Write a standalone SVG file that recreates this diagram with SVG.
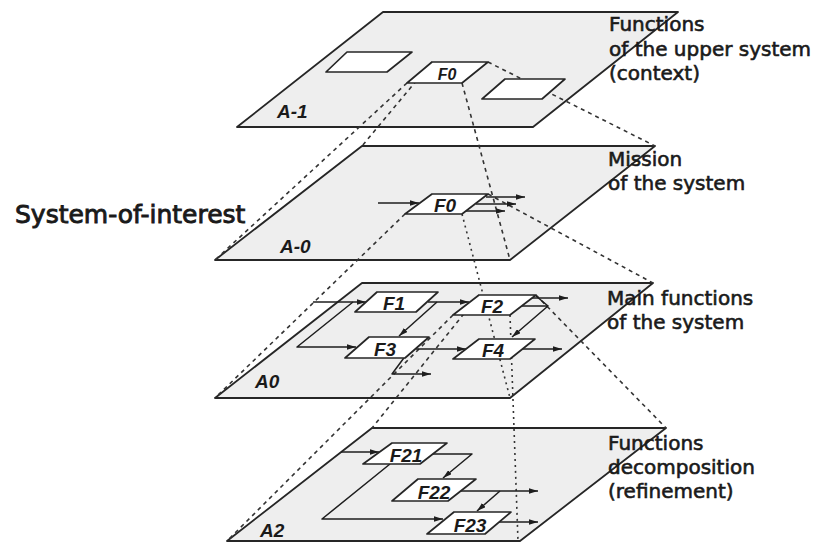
<svg xmlns="http://www.w3.org/2000/svg" width="824" height="542" viewBox="0 0 824 542">
<style>
.plane{fill:#eeeeee;stroke:#262626;stroke-width:1.8;stroke-linejoin:round}
.box{fill:#ffffff;stroke:#262626;stroke-width:1.7;stroke-linejoin:round}
.dash{fill:none;stroke:#333;stroke-width:1.6;stroke-dasharray:4 4}
.dot{fill:none;stroke:#333;stroke-width:1.6;stroke-dasharray:2 4}
.con{fill:none;stroke:#1e1e1e;stroke-width:1.5;stroke-linejoin:round}
.arr{marker-end:url(#ah)}
.lbl{font-family:"DejaVu Sans","Liberation Sans",sans-serif;font-size:20px;fill:#1a1a1a;stroke:#1a1a1a;stroke-width:0.6}
.big{font-family:"DejaVu Sans","Liberation Sans",sans-serif;font-size:25px;fill:#1a1a1a;stroke:#1a1a1a;stroke-width:0.9}
.fn{font-family:"Liberation Sans",Arial,sans-serif;font-size:19px;font-weight:bold;font-style:italic;fill:#1a1a1a;text-anchor:middle}
.pl{font-family:"Liberation Sans",Arial,sans-serif;font-size:19px;font-weight:bold;font-style:italic;fill:#1a1a1a}
</style>
<defs>
<marker id="ah" viewBox="0 0 10 6" refX="10" refY="3" markerWidth="9" markerHeight="5.4" markerUnits="userSpaceOnUse" orient="auto"><path d="M0,0 L10,3 L0,6 z" fill="#1e1e1e"/></marker>
</defs>

<g id="planes">
<g id="plane-A-1"><polygon class="plane" points="383,12 678,12 533,127 237,127"/></g>
<g id="plane-A-0"><polygon class="plane" points="362,146 655,146 510,260 215,260"/></g>
<g id="plane-A0"><polygon class="plane" points="362,283 653,283 510,398 215,398"/></g>
<g id="plane-A2"><polygon class="plane" points="372,428 666,428 520,541 227,541"/></g>
</g>

<g id="projections">
<line class="dash" x1="407" y1="83" x2="215" y2="260"/>
<line class="dash" x1="432" y1="62" x2="362" y2="146"/>
<line class="dash" x1="462" y1="83" x2="510" y2="260"/>
<line class="dash" x1="488" y1="62" x2="655" y2="146"/>
<line class="dash" x1="405" y1="214" x2="215" y2="398"/>
<line class="dot" x1="462" y1="214" x2="510" y2="398"/>
<line class="dash" x1="488" y1="194" x2="653" y2="283"/>
<line class="dash" x1="453" y1="315" x2="227" y2="541"/>
<line class="dash" x1="479" y1="295" x2="372" y2="428"/>
<line class="dot" x1="510" y1="315" x2="518" y2="541"/>
<line class="dash" x1="536" y1="295" x2="666" y2="428"/>
</g>

<g id="connectors">
<path class="con arr" d="M378,203 H419"/>
<path class="con arr" d="M486,197 H525"/>
<path class="con arr" d="M476,204 H516"/>
<path class="con arr" d="M465,211 H505"/>

<path class="con arr" d="M313,302 H366"/>
<path class="con arr" d="M353,302 L297,347 H356"/>
<path class="con arr" d="M428,302 H469"/>
<path class="con arr" d="M437,302 L399,336"/>
<path class="con arr" d="M531,298 H568"/>
<path class="con" d="M536,296 L548,306"/>
<path class="con arr" d="M521,306 H548 L512,337"/>
<path class="con arr" d="M416,349 H466"/>
<path class="con arr" d="M412,347 L392,374 H431"/>
<path class="con arr" d="M521,349 H562"/>

<path class="con arr" d="M341,452 H379"/>
<path class="con arr" d="M432,454 H472 L443,478"/>
<path class="con arr" d="M390,464 L322,519 H443"/>
<path class="con arr" d="M460,491 H538"/>
<path class="con arr" d="M500,491 L477,511"/>
<path class="con arr" d="M496,522 H538"/>
</g>

<g id="boxes">
<g id="A-1-left"><polygon class="box" points="347,52 412,52 387,72 326,72"/></g>
<g id="A-1-F0"><polygon class="box" points="432,62 488,62 462,83 407,83"/><text class="fn" x="447" y="80" style="font-size:16px">F0</text></g>
<g id="A-1-right"><polygon class="box" points="505,79 565,79 542,99 482,99"/></g>
<g id="A-0-F0"><polygon class="box" points="432,194 488,194 462,214 405,214"/><text class="fn" x="445" y="212">F0</text></g>
<g id="F1"><polygon class="box" points="377,292 438,292 416,312 355,312"/><text class="fn" x="394" y="310">F1</text></g>
<g id="F2"><polygon class="box" points="479,295 536,295 510,315 453,315"/><text class="fn" x="492" y="313">F2</text></g>
<g id="F3"><polygon class="box" points="369,337 429,337 405,358 345,358"/><text class="fn" x="385" y="356">F3</text></g>
<g id="F4"><polygon class="box" points="479,339 535,339 510,359 453,359"/><text class="fn" x="493" y="357">F4</text></g>
<g id="F21"><polygon class="box" points="392,443 447,443 420,464 363,464"/><text class="fn" x="406" y="462">F21</text></g>
<g id="F22"><polygon class="box" points="418,479 476,479 448,501 392,501"/><text class="fn" x="434" y="499">F22</text></g>
<g id="F23"><polygon class="box" points="454,512 511,512 485,534 427,534"/><text class="fn" x="470" y="532">F23</text></g>
</g>

<g id="plane-labels">
<text class="pl" x="277" y="118">A-1</text>
<text class="pl" x="280" y="253">A-0</text>
<text class="pl" x="255" y="388">A0</text>
<text class="pl" x="260" y="537">A2</text>
</g>

<g id="side-labels">
<text class="lbl" x="609" y="31">Functions</text>
<text class="lbl" x="609" y="56">of the upper system</text>
<text class="lbl" x="609" y="80">(context)</text>
<text class="lbl" x="608" y="166">Mission</text>
<text class="lbl" x="608" y="190">of the system</text>
<text class="lbl" x="607" y="305">Main functions</text>
<text class="lbl" x="607" y="329">of the system</text>
<text class="lbl" x="608" y="450">Functions</text>
<text class="lbl" x="608" y="474">decomposition</text>
<text class="lbl" x="608" y="498">(refinement)</text>
<text class="big" x="15" y="223">System-of-interest</text>
</g>
</svg>
